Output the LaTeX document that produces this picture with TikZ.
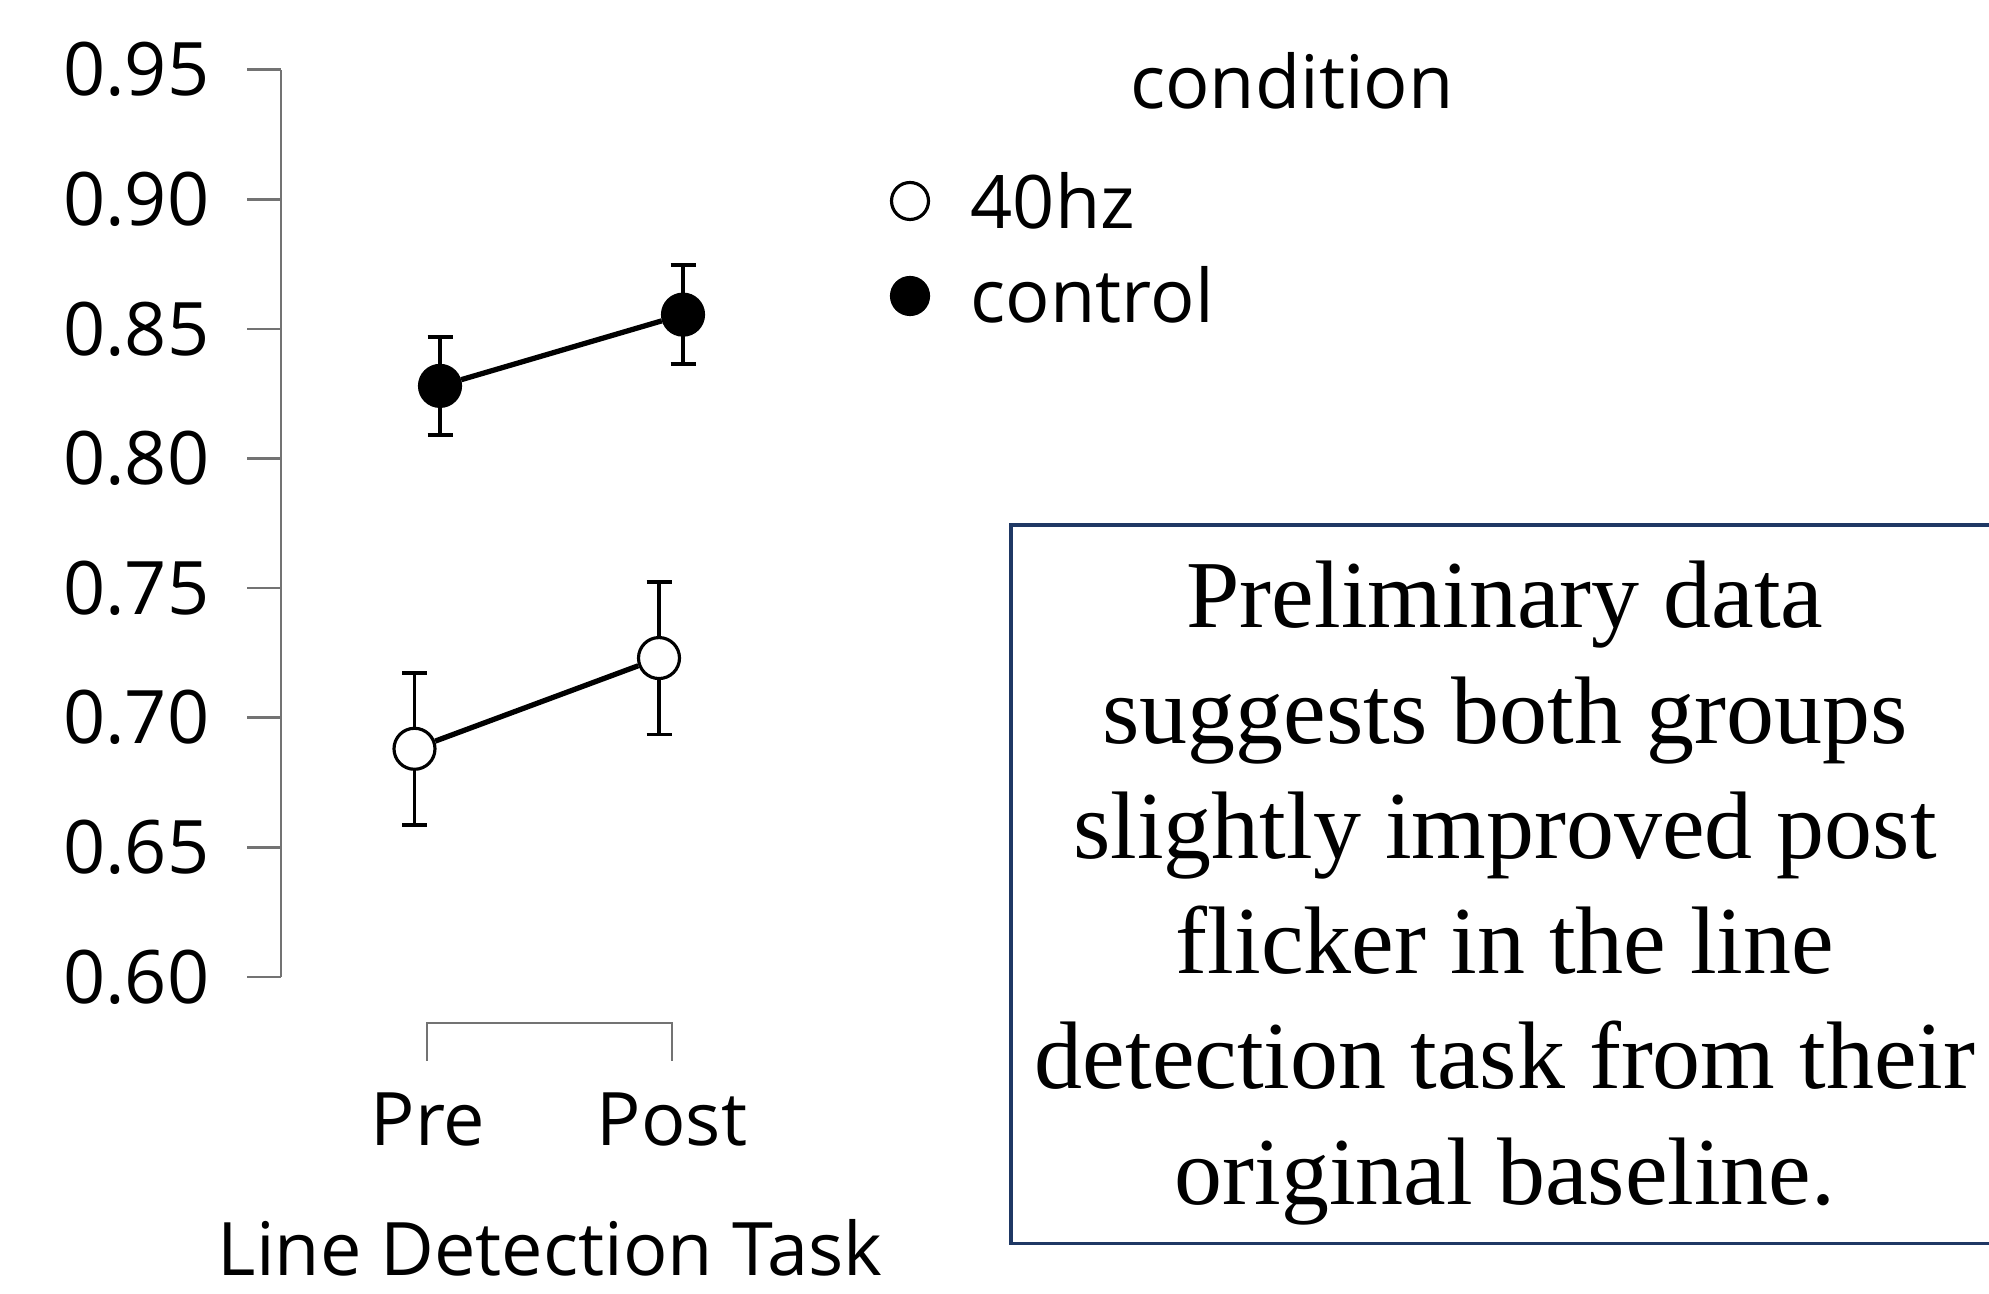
\documentclass[tikz,border=0pt]{standalone}
\usepackage{fontspec}
\setmainfont{Liberation Serif}
\newfontfamily\plotfont{Open Sans}
\definecolor{boxblue}{RGB}{31,56,100}

\begin{document}
\begin{tikzpicture}[
    axisline/.style={black!55, line width=0.7pt},
    errbar/.style={black, line width=1.1pt},
    dotfull/.style={circle, draw=black, fill=black, line width=0.9pt, minimum size=0.41cm, inner sep=0pt},
    dotopen/.style={circle, draw=black, fill=white, line width=0.9pt, minimum size=0.41cm, inner sep=0pt},
    plottext/.style={font=\plotfont\fontsize{21}{25}\selectfont, inner sep=0pt}
]
    \useasboundingbox (0,0) rectangle (19.89,12.93);

    % Error bar: x, mean, half width
    \def\capw{0.125}
    \newcommand{\errbar}[3]{%
        \draw[errbar] (#1,{#2-#3}) -- (#1,{#2+#3});
        \draw[errbar] ({#1-\capw},{#2-#3}) -- ({#1+\capw},{#2-#3});
        \draw[errbar] ({#1-\capw},{#2+#3}) -- ({#1+\capw},{#2+#3});
    }

    % Plot area, y in accuracy units
    \begin{scope}[yshift=-12.391cm, y=25.92cm]
        % y axis and ticks
        \draw[axisline] (2.81,0.60) -- (2.81,0.95);
        \foreach \v [count=\i] in {0.60,0.65,0.70,0.75,0.80,0.85,0.90,0.95} {
            \draw[axisline] (2.47,\v) -- (2.81,\v);
            \node[plottext, anchor=east] (tick\i) at (2.10,\v) {\v};
        }

        % Error bars
        \errbar{4.40}{0.828}{0.019}
        \errbar{6.83}{0.8555}{0.019}
        \errbar{4.145}{0.688}{0.0294}
        \errbar{6.59}{0.723}{0.0295}

        % Means
        \node[dotfull] (cpre) at (4.40,0.828) {};
        \node[dotfull] (cpost) at (6.83,0.8555) {};
        \node[dotopen] (hpre) at (4.145,0.688) {};
        \node[dotopen] (hpost) at (6.59,0.723) {};
        \draw[line width=1.5pt] (cpre) -- (cpost);
        \draw[line width=1.5pt] (hpre) -- (hpost);
    \end{scope}

    % x axis bracket and labels
    \draw[axisline] (4.27,2.32) -- (4.27,2.70) -- (6.72,2.70) -- (6.72,2.32);
    \node[plottext, anchor=base] (pre) at (4.28,1.48) {Pre};
    \node[plottext, anchor=base] (post) at (6.72,1.48) {Post};
    \node[plottext, anchor=base] (xtitle) at (5.50,0.18) {Line Detection Task};

    % Legend
    \node[plottext, anchor=base] (legtitle) at (12.92,11.84) {condition};
    \node[dotopen, minimum size=0.37cm] (legopen) at (9.10,10.92) {};
    \node[plottext, anchor=base west] (legopentext) at (9.70,10.64) {40hz};
    \node[dotfull, minimum size=0.37cm] (legfull) at (9.10,9.97) {};
    \node[plottext, anchor=base west] (legfulltext) at (9.70,9.70) {control};

    % Comment box
    \draw[boxblue, line width=0.9pt] (10.11,0.495) rectangle (20.0,7.68);
    \node[align=center, inner sep=0pt, font=\fontsize{27.3}{32.8}\selectfont] (note) at (15.05,4.0)
        {Preliminary data\\ suggests both groups\\ slightly improved post\\ flicker in the line\\ detection task from their\\ original baseline.};
\end{tikzpicture}
\end{document}
